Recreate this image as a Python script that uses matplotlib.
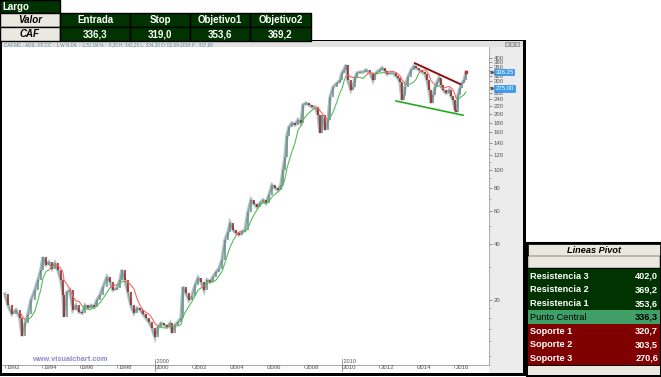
import numpy as np
import pandas as pd
import matplotlib
matplotlib.use('Agg')
import matplotlib.pyplot as plt
from matplotlib.collections import LineCollection
from matplotlib.patches import Rectangle
from matplotlib.ticker import NullFormatter
from matplotlib.transforms import ScaledTranslation, blended_transform_factory

plt.rcParams['font.family'] = ['Liberation Sans', 'DejaVu Sans']

# Closing prices (decimal year, price)
dates = [1992.00, 1992.16, 1992.37, 1992.59, 1992.80, 1992.91, 1993.07, 1993.23, 1993.39, 1993.60,
         1993.76, 1993.92, 1994.03, 1994.19, 1994.35, 1994.51, 1994.67, 1994.83, 1994.99, 1995.10,
         1995.15, 1995.31, 1995.47, 1995.63, 1995.79, 1995.96, 1996.12, 1996.28, 1996.44, 1996.60,
         1996.76, 1996.92, 1997.08, 1997.24, 1997.45, 1997.61, 1997.77, 1997.99, 1998.15, 1998.25,
         1998.41, 1998.57, 1998.73, 1998.89, 1999.06, 1999.22, 1999.38, 1999.54, 1999.70, 1999.86,
         2000.02, 2000.18, 2000.34, 2000.50, 2000.66, 2000.82, 2000.93, 2001.09, 2001.25, 2001.41,
         2001.51, 2001.67, 2001.83, 2001.99, 2002.16, 2002.32, 2002.48, 2002.64, 2002.80, 2002.96,
         2003.12, 2003.28, 2003.44, 2003.60, 2003.76, 2003.92, 2004.03, 2004.19, 2004.35, 2004.51,
         2004.67, 2004.83, 2004.99, 2005.15, 2005.31, 2005.47, 2005.63, 2005.79, 2005.95, 2006.11,
         2006.27, 2006.43, 2006.59, 2006.75, 2006.86, 2006.97, 2007.07, 2007.18, 2007.34, 2007.50,
         2007.66, 2007.82, 2007.93, 2008.09, 2008.25, 2008.41, 2008.58, 2008.74, 2008.84, 2008.95,
         2009.11, 2009.27, 2009.38, 2009.54, 2009.75, 2009.91, 2010.01, 2010.12, 2010.23, 2010.33,
         2010.49, 2010.60, 2010.71, 2010.81, 2010.97, 2011.14, 2011.30, 2011.51, 2011.67, 2011.78,
         2011.88, 2012.04, 2012.15, 2012.31, 2012.42, 2012.58, 2012.74, 2012.90, 2013.01, 2013.12,
         2013.22, 2013.33, 2013.38, 2013.54, 2013.71, 2013.86, 2013.97, 2014.13, 2014.29, 2014.45,
         2014.56, 2014.67, 2014.77, 2014.88, 2014.99, 2015.10, 2015.20, 2015.31, 2015.42, 2015.58,
         2015.74, 2015.84, 2015.95, 2016.06, 2016.11, 2016.22, 2016.32, 2016.43, 2016.54, 2016.65]
closes = [21.5, 18.7, 16.8, 17.7, 16.0, 12.8, 15.0, 16.8, 20.0, 22.6,
          25.6, 29.0, 34.0, 31.0, 32.0, 29.5, 31.6, 29.0, 25.6, 21.3,
          16.2, 22.0, 22.6, 17.7, 18.7, 17.2, 17.0, 18.7, 18.1, 18.7,
          18.3, 20.0, 21.3, 23.5, 26.6, 25.0, 22.6, 23.2, 25.6, 29.0,
          25.6, 22.0, 18.7, 17.0, 18.1, 17.7, 16.8, 16.0, 15.2, 14.1,
          12.6, 14.3, 15.0, 14.7, 14.3, 15.0, 13.3, 14.7, 15.2, 16.0,
          23.5, 21.8, 20.0, 21.0, 24.0, 26.3, 25.0, 22.6, 25.6, 25.0,
          26.6, 28.2, 29.5, 32.8, 42.0, 46.3, 51.9, 47.6, 45.8, 44.8,
          46.3, 47.6, 59.5, 69.0, 65.7, 63.2, 66.4, 69.0, 66.4, 73.0,
          83.0, 80.0, 78.0, 83.0, 100, 117.5, 153, 170, 179, 175,
          186, 179, 224, 229, 224, 218, 218, 197, 158, 197,
          164, 186, 247, 279, 293, 304, 332, 345, 367, 304,
          269, 279, 312, 332, 336, 336, 345, 332, 304, 328,
          336, 345, 354, 341, 328, 332, 332, 320, 312, 297,
          238, 253, 279, 316, 345, 362, 354, 345, 336, 328,
          304, 269, 229, 253, 279, 297, 312, 286, 269, 259,
          269, 250, 238, 210, 205, 253, 276, 293, 304, 336]

# hand drawn trendlines
resist_dates = [2013.91, 2016.32]
resist_prices = [375, 290]
support_dates = [2012.90, 2016.48]
support_prices = [235, 197]

price_ticks = [20, 40, 60, 80, 100, 120, 140, 160, 180, 200, 220, 240, 260, 280, 300, 320, 340, 360, 380, 400]
# 340 and 280 sit under the blue value boxes, so they show no label
price_labels = ['20', '40', '60', '80', '100', '120', '140', '160', '180', '200', '220', '240', '260', '',
                '300', '320', '', '360', '380', '400']
minor_ticks = [10, 12, 14, 16, 18, 30, 50, 70, 90, 110, 130]
year_ticks = list(range(1992, 2018, 2))
last_price = 336.25
ma_price = 275.00

trade_headers = ['Entrada', 'Stop', 'Objetivo1', 'Objetivo2']
trade_values = ['336,3', '319,0', '353,6', '369,2']
pivot_labels = ['Resistencia 3', 'Resistencia 2', 'Resistencia 1', 'Punto Central',
                'Soporte 1', 'Soporte 2', 'Soporte 3']
pivot_values = ['402,0', '369,2', '353,6', '336,3', '320,7', '303,5', '270,6']

DKGREEN = '#003300'
BEIGE = '#ebe8df'
DKRED = '#800000'
MIDGREEN = '#3f9f66'

W, H = 661, 377
fig = plt.figure(figsize=(W / 100, H / 100), dpi=100)
fig.patch.set_facecolor('white')


def px(x0, y0, x1, y1):
    return [x0 / W, 1 - y1 / H, (x1 - x0) / W, (y1 - y0) / H]


# price scale panel and date strip
panel = fig.add_axes(px(489, 47, 523, 373))
panel.set_facecolor('#ececec')
panel.set_xticks([])
panel.set_yticks([])
for s in panel.spines.values():
    s.set_visible(False)

strip = fig.add_axes(px(2, 365, 489, 373))
strip.set_facecolor('#fbfbfb')
strip.set_xticks([])
strip.set_yticks([])
for s in strip.spines.values():
    s.set_visible(False)
strip.spines['top'].set_visible(True)
strip.spines['top'].set_color('#9a9a9a')
strip.spines['top'].set_linewidth(0.6)

# main chart
ax = fig.add_axes(px(2, 47, 489, 365))
ax.set_yscale('log')
ax.set_xlim(1991.84, 2017.87)
ax.set_ylim(8.94, 458.5)
for s in ax.spines.values():
    s.set_visible(False)
ax.spines['right'].set_visible(True)
ax.spines['right'].set_color('#a0a0a0')
ax.spines['right'].set_linewidth(0.6)

d = np.array(dates)
c = np.array(closes)

# close line plus candle bodies (open = previous close)
ax.plot(d, c, color='#b3c4c4', lw=2.5, solid_joinstyle='miter', zorder=2)
ax.plot(d, c, color='#7a9898', lw=0.6, zorder=3)
up = c[1:] >= c[:-1]
ax.vlines(d[1:][up], c[:-1][up], c[1:][up], color='#6b8e8e', lw=1.1, zorder=4)
ax.vlines(d[1:][~up], c[:-1][~up], c[1:][~up], color='#9b1a1a', lw=1.1, zorder=4)

# 40 week moving average, red while price is under it
idx = pd.to_datetime('1992-01-01') + pd.to_timedelta((d - 1992) * 365.25, unit='D')
s = pd.Series(c, index=idx)
ma = s.rolling('280D').mean().values
ok = d >= d[0] + 280 / 365.25
md, mv, mc = d[ok], ma[ok], c[ok]
segs = [[(md[i], mv[i]), (md[i + 1], mv[i + 1])] for i in range(len(md) - 1)]
cols = ['#ff6060' if mc[i + 1] < mv[i + 1] else '#55bb55' for i in range(len(md) - 1)]
ax.add_collection(LineCollection(segs, colors=cols, linewidths=0.8, zorder=5))

ax.plot(resist_dates, resist_prices, color='#8b1010', lw=1.4, zorder=6)
ax.plot(support_dates, support_prices, color='#22aa22', lw=1.2, zorder=6)
ax.plot(d[-1], c[-1], 's', ms=1.8, color='#c03030', zorder=7)

# right price scale
ax.yaxis.tick_right()
ax.set_yticks(price_ticks)
ax.set_yticklabels(price_labels)
ax.set_yticks(minor_ticks, minor=True)
ax.yaxis.set_minor_formatter(NullFormatter())
ax.tick_params(axis='y', which='major', length=2.5, width=0.5, color='#666666', pad=1,
               labelsize=4.3, labelcolor='#555555')
ax.tick_params(axis='y', which='minor', length=1.2, width=0.4, color='#888888')
tr_y = blended_transform_factory(ax.transAxes, ax.transData)
for val in [last_price, ma_price]:
    ax.text(1.013, val, '%.2f' % val, transform=tr_y, fontsize=4.3, color='white', va='center',
            ha='left', bbox=dict(boxstyle='square,pad=0.15', fc='#3a9cf0', ec='#2a7cd0', lw=0.4))
    ax.plot([1.006], [val], marker='>', ms=1.8, color='#555555', transform=tr_y, clip_on=False)

# bottom date scale
ax.set_xticks(year_ticks)
ax.set_xticklabels([str(y) for y in year_ticks])
ax.tick_params(axis='x', length=2.5, width=0.5, color='#777777', pad=-2.6,
               labelsize=4.3, labelcolor='#555555')
shift = ScaledTranslation(1.2 / 100, 0, fig.dpi_scale_trans)
for lab in ax.get_xticklabels():
    lab.set_horizontalalignment('left')
    lab.set_transform(lab.get_transform() + shift)
tr_x = blended_transform_factory(ax.transData, ax.transAxes)
for yr in [2000, 2010]:
    ax.plot([yr, yr], [0.018, -0.02], transform=tr_x, color='#777777', lw=0.5, clip_on=False)
    ax.text(yr, 0.012, ' ' + str(yr), transform=tr_x, fontsize=4.0, color='#555555',
            ha='left', va='center')

ax.text(0.062, 0.018, 'www.visualchart.com', transform=ax.transAxes, fontsize=5.3,
        color='#8a8ad0', fontweight='bold', ha='left', va='center')

# overlay in pixel coordinates for frames and tables
ov = fig.add_axes([0, 0, 1, 1], zorder=10)
ov.set_xlim(0, W)
ov.set_ylim(H, 0)
ov.axis('off')
ov.patch.set_alpha(0)

# window frame and info strip
ov.add_patch(Rectangle((2, 41), 521, 6, fc='#e2e2e2', ec='none'))
ov.text(4, 44.3, 'CAF.MC - ADIL. FF.CC -  1 W N Dif. : -1,51 Dif.% : -5,20 H: 342,20 L: 334,20 '
        'O: 02-09-2016 P : 337,98', fontsize=3.3, color='#5b8c9c', va='center', ha='left')
for bx in [505, 510, 515]:
    ov.add_patch(Rectangle((bx, 42.3), 4, 3.6, fc='#d0d0d0', ec='#707070', lw=0.4))
ov.add_patch(Rectangle((0, 41), 2, 335, fc='black', ec='none'))
ov.add_patch(Rectangle((523, 40), 3, 336, fc='black', ec='none'))
ov.add_patch(Rectangle((0, 373), 526, 3, fc='black', ec='none'))
ov.add_patch(Rectangle((311, 39.5), 215, 1.8, fc='black', ec='none'))


def cell(x0, y0, x1, y1, fc, text='', color='white', ha='center', size=7,
         weight='bold', style='normal', lw=1.0):
    ov.add_patch(Rectangle((x0, y0), x1 - x0, y1 - y0, fc=fc, ec='black', lw=lw))
    if text:
        tx = {'center': (x0 + x1) / 2, 'left': x0 + 2.5, 'right': x1 - 2.5}[ha]
        ov.text(tx, (y0 + y1) / 2 + 0.4, text, fontsize=size, color=color, ha=ha,
                va='center', fontweight=weight, fontstyle=style)


# trade table (top left)
cell(0, 0, 60, 12.5, DKGREEN, 'Largo', ha='left')
col_edges = [60, 130, 190, 250, 311]
cell(0, 12.5, 60, 27, BEIGE, 'Valor', color='black', style='italic')
cell(0, 27, 60, 40.5, BEIGE, 'CAF', color='black', style='italic')
for i in range(len(trade_headers)):
    cell(col_edges[i], 12.5, col_edges[i + 1], 27, DKGREEN, trade_headers[i])
    cell(col_edges[i], 27, col_edges[i + 1], 40.5, DKGREEN, trade_values[i])

# pivot table (bottom right)
ov.add_patch(Rectangle((526.5, 242.5), 134, 133.5, fc='black', ec='black', lw=1.5))
cell(527.5, 243.5, 660, 256, BEIGE, 'Lineas Pivot', color='black', style='italic', lw=0.5, size=6.6)
cell(527.5, 256, 660, 268, BEIGE, lw=0.3)
row_h = 13.7
for i, (lab, val) in enumerate(zip(pivot_labels, pivot_values)):
    y0 = 269 + i * row_h
    if i < 3:
        fc, col, wt = DKGREEN, 'white', 'bold'
    elif i == 3:
        fc, col, wt = MIDGREEN, 'black', 'normal'
    else:
        fc, col, wt = DKRED, 'white', 'bold'
    ov.add_patch(Rectangle((527.5, y0), 132.5, row_h, fc=fc, ec='none'))
    ov.text(529.5, y0 + row_h / 2 + 0.4, lab, fontsize=6.6, color=col, fontweight=wt,
            ha='left', va='center')
    ov.text(658, y0 + row_h / 2 + 0.4, val, fontsize=6.6, color=col, fontweight='bold',
            ha='right', va='center')
ov.add_patch(Rectangle((527.5, 365.5), 132.5, 9.5, fc=BEIGE, ec='none'))

fig.savefig('out.png', dpi=100)
